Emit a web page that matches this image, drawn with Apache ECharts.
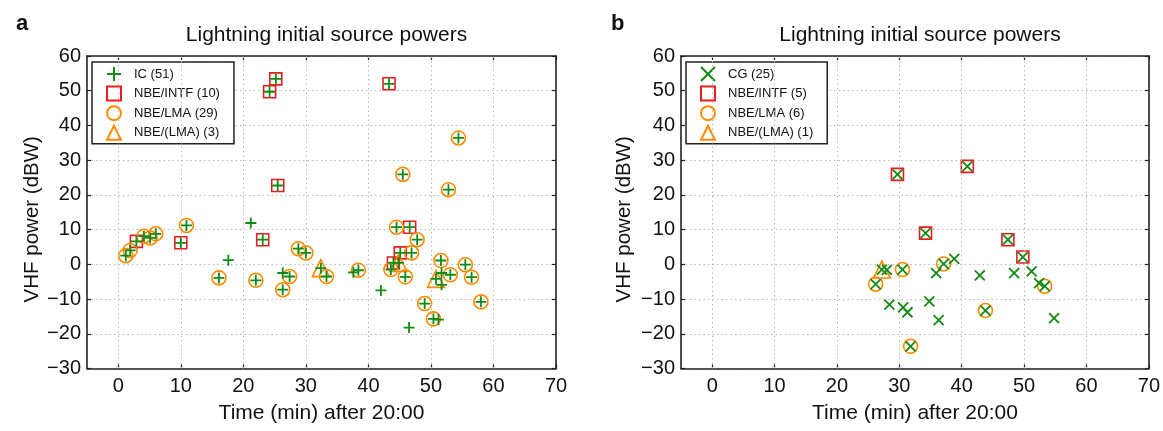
<!DOCTYPE html>
<html>
<head>
<meta charset="utf-8">
<script src="https://cdn.jsdelivr.net/npm/echarts@6/dist/echarts.min.js"></script>
<style>
  html, body { margin: 0; padding: 0; background: #fff; }
  #chart { width: 1163px; height: 431px; }
</style>
</head>
<body>
<div id="chart"></div>
<script>
// ---------- data ----------
const xTicks = [0, 10, 20, 30, 40, 50, 60, 70];
const yTicks = [-30, -20, -10, 0, 10, 20, 30, 40, 50, 60];

// Panel a
const icA = [
  [1.2,2.5],[1.9,4.0],[2.9,6.6],[4.1,8.1],[5.1,7.6],[6.0,8.8],[10.0,6.2],[10.9,11.2],
  [16.1,-3.9],[17.6,1.2],[21.2,11.9],[22.0,-4.6],[23.1,7.1],[24.2,49.7],[25.2,53.4],[25.5,22.7],
  [26.3,-7.3],[26.3,-2.5],[27.4,-3.5],[28.8,4.5],[30.0,3.3],[32.4,-1.1],[33.3,-3.5],[37.6,-2.3],
  [38.4,-1.7],[42.0,-7.5],[43.3,52.0],[43.6,-1.5],[44.0,0.4],[44.5,10.7],[44.8,0.4],[45.1,3.3],
  [45.5,25.9],[45.9,-3.6],[46.5,-18.2],[46.6,10.7],[46.9,3.3],[47.8,7.1],[49.0,-11.3],[50.4,-15.7],
  [50.8,-4.2],[51.2,-15.9],[51.6,1.1],[51.7,-5.9],[51.7,-2.5],[52.8,21.5],[53.1,-3.0],[54.4,36.4],
  [55.5,-0.1],[56.5,-3.7],[58.0,-10.8]
];
const intfA = [
  [2.9,6.6],[10.0,6.2],[23.1,7.1],[24.2,49.7],[25.2,53.4],[25.5,22.7],[43.3,52.0],[44.0,0.4],[45.1,3.3],[46.6,10.7]
];
const lmaA = [
  [1.2,2.5],[1.9,4.0],[4.1,8.1],[5.1,7.6],[6.0,8.8],[10.9,11.2],[16.1,-3.9],[22.0,-4.6],
  [26.3,-7.3],[27.4,-3.5],[28.8,4.5],[30.0,3.3],[33.3,-3.5],[38.4,-1.7],[43.6,-1.5],[44.5,10.7],
  [45.5,25.9],[45.9,-3.6],[46.9,3.3],[47.8,7.1],[49.0,-11.3],[50.4,-15.7],[51.6,1.1],[52.8,21.5],
  [53.1,-3.0],[54.4,36.4],[55.5,-0.1],[56.5,-3.7],[58.0,-10.8]
];
const lmaQA = [[32.4,-1.1],[44.8,0.4],[50.8,-4.2]];

// Panel b
const cgB = [
  [26.2,-5.7],[27.2,-1.5],[28.0,-1.6],[28.4,-11.6],[29.7,25.9],[30.5,-1.5],[30.6,-12.4],[31.3,-13.8],
  [31.8,-23.6],[34.2,9.0],[34.8,-10.7],[35.9,-2.5],[36.3,-16.1],[37.1,0.1],[38.8,1.6],[40.9,28.2],
  [42.9,-3.2],[43.8,-13.3],[47.4,7.1],[48.4,-2.5],[49.8,2.1],[51.2,-2.0],[52.4,-5.4],[53.3,-6.3],
  [54.8,-15.5]
];
const intfB = [[29.7,25.9],[34.2,9.0],[40.9,28.2],[47.4,7.1],[49.8,2.1]];
const lmaB = [[26.2,-5.7],[30.5,-1.5],[31.8,-23.6],[37.1,0.1],[43.8,-13.3],[53.3,-6.3]];
const lmaQB = [[27.2,-1.5]];

const namesA = ['IC (51)', 'NBE/INTF (10)', 'NBE/LMA (29)', 'NBE/(LMA) (3)'];
const namesB = ['CG (25)', 'NBE/INTF (5)', 'NBE/LMA (6)', 'NBE/(LMA) (1)'];
const titleText = 'Lightning initial source powers';
const xName = 'Time (min) after 20:00';
const yName = 'VHF power (dBW)';

// ---------- styles ----------
const FONT = '"Liberation Sans", Arial, Helvetica, sans-serif';
const GREEN = '#138a13';
const RED = '#ee1c1c';
const ORANGE = '#ff8a00';
const AXIS = '#222';
const GRIDC = '#b8b8b8';
const SYM_PLUS = 'path://M5,0L5,10M0,5L10,5';
const SYM_X = 'path://M0,0L10,10M10,0L0,10';
const NONE = 'rgba(0,0,0,0)';

const grids = [
  { left: 87, top: 56, width: 469, height: 312.5 },
  { left: 681, top: 56, width: 468, height: 312.5 }
];

function xAxes(gi) {
  const line = { show: true, onZero: false, lineStyle: { color: AXIS, width: 1.6 } };
  const tick = { show: true, inside: true, length: 4, customValues: xTicks, lineStyle: { color: AXIS, width: 1.2 } };
  return [
    {
      type: 'value', gridIndex: gi, position: 'bottom', min: -5, max: 70, interval: 5,
      axisLine: line, axisTick: tick, splitLine: { show: false },
      axisLabel: {
        margin: 8, color: '#111', fontSize: 20, fontFamily: FONT, customValues: xTicks,
        formatter: v => (xTicks.indexOf(v) >= 0 ? String(v) : '')
      },
      name: xName, nameLocation: 'middle', nameGap: 34,
      nameTextStyle: { color: '#111', fontSize: 21, fontFamily: FONT }
    },
    {
      type: 'value', gridIndex: gi, position: 'top', min: -5, max: 70, interval: 5,
      axisLine: line, axisTick: tick, axisLabel: { show: false }, splitLine: { show: false }
    }
  ];
}
function yAxes(gi, gap) {
  const line = { show: true, onZero: false, lineStyle: { color: AXIS, width: 1.6 } };
  const tick = { show: true, inside: true, length: 4, lineStyle: { color: AXIS, width: 1.2 } };
  return [
    {
      type: 'value', gridIndex: gi, position: 'left', min: -30, max: 60, interval: 10,
      axisLine: line, axisTick: tick,
      splitLine: { show: true, lineStyle: { color: GRIDC, type: [1.5, 3], width: 1 } },
      axisLabel: {
        margin: 6, color: '#111', fontSize: 20, fontFamily: FONT,
        formatter: v => String(v).replace('-', '\u2212')
      },
      name: yName, nameLocation: 'middle', nameGap: gap, nameRotate: 90,
      nameTextStyle: { color: '#111', fontSize: 20.5, fontFamily: FONT, padding: [0, 14, 0, 0] }
    },
    {
      type: 'value', gridIndex: gi, position: 'right', min: -30, max: 60, interval: 10,
      axisLine: line, axisTick: tick, axisLabel: { show: false }, splitLine: { show: false }
    }
  ];
}

function sc(name, data, ax, symbol, size, color, bw, z) {
  return {
    type: 'scatter', name: name, data: data,
    xAxisIndex: ax, yAxisIndex: ax,
    symbol: symbol, symbolSize: size,
    itemStyle: { color: NONE, borderColor: color, borderWidth: bw, opacity: 1 },
    emphasis: { disabled: true }, silent: true, z: z
  };
}
function gridLines(ax) {
  return {
    type: 'scatter', name: 'vgrid' + ax, data: [], xAxisIndex: ax, yAxisIndex: ax, z: 0, silent: true,
    markLine: {
      silent: true, symbol: ['none', 'none'], animation: false,
      label: { show: false },
      lineStyle: { color: GRIDC, type: [1.5, 3], width: 1 },
      data: xTicks.filter(v => v > -5 && v < 70).map(v => ({ xAxis: v }))
    }
  };
}

function legend(names, left) {
  return {
    data: names, orient: 'vertical', left: left, top: 62,
    selectedMode: false,
    backgroundColor: '#fff', borderColor: AXIS, borderWidth: 1.5, borderRadius: 0,
    padding: [4, 14, 3, 14], itemGap: 3.6, itemWidth: 14, itemHeight: 14,
    textStyle: { fontSize: 13, fontFamily: FONT, color: '#111', padding: [0, 0, 0, 8], lineHeight: 14 }
  };
}

const option = {
  animation: false,
  backgroundColor: '#fff',
  title: [
    { text: titleText, left: 321.5, top: 20, textAlign: 'center',
      textStyle: { fontSize: 21, fontWeight: 'normal', fontFamily: FONT, color: '#111' } },
    { text: titleText, left: 915, top: 20, textAlign: 'center',
      textStyle: { fontSize: 21, fontWeight: 'normal', fontFamily: FONT, color: '#111' } },
    { text: 'a', left: 11, top: 8, textStyle: { fontSize: 22, fontWeight: 'bold', fontFamily: FONT, color: '#111' } },
    { text: 'b', left: 606, top: 8, textStyle: { fontSize: 22, fontWeight: 'bold', fontFamily: FONT, color: '#111' } }
  ],
  legend: [legend(namesA, 92), legend(namesB, 686)],
  grid: grids,
  xAxis: xAxes(0).concat(xAxes(1)),
  yAxis: yAxes(0, 43).concat(yAxes(1, 46)),
  series: [
    gridLines(0),
    gridLines(2),
    sc(namesA[1], intfA, 0, 'rect', 12, RED, 1.6, 3),
    sc(namesA[2], lmaA, 0, 'circle', 14, ORANGE, 1.6, 4),
    sc(namesA[3], lmaQA, 0, 'triangle', 17, ORANGE, 1.6, 4),
    sc(namesA[0], icA, 0, SYM_PLUS, 11, GREEN, 1.8, 6),
    sc(namesB[1], intfB, 2, 'rect', 12, RED, 1.6, 3),
    sc(namesB[2], lmaB, 2, 'circle', 14, ORANGE, 1.6, 4),
    sc(namesB[3], lmaQB, 2, 'triangle', 17, ORANGE, 1.6, 4),
    sc(namesB[0], cgB, 2, SYM_X, 10, GREEN, 1.8, 6)
  ]
};

// xAxis indices: 0 bottom-a, 1 top-a, 2 bottom-b, 3 top-b; yAxis same pattern
const chart = echarts.init(document.getElementById('chart'), null, { renderer: 'canvas' });
chart.setOption(option);
</script>
</body>
</html>
